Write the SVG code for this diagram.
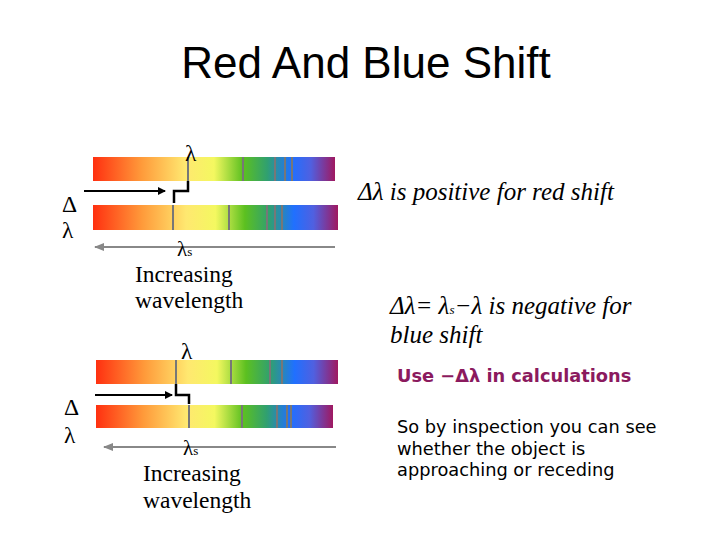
<svg xmlns="http://www.w3.org/2000/svg" width="720" height="540" viewBox="0 0 720 540">
<defs>
<linearGradient id="sp" x1="0" x2="1" y1="0" y2="0">
<stop offset="0" stop-color="#ff3010"/>
<stop offset="0.2" stop-color="#ff9a3a"/>
<stop offset="0.38" stop-color="#ffe870"/>
<stop offset="0.5" stop-color="#f4f860"/>
<stop offset="0.62" stop-color="#5cc020"/>
<stop offset="0.72" stop-color="#30a070"/>
<stop offset="0.82" stop-color="#2070ff"/>
<stop offset="0.9" stop-color="#5060e0"/>
<stop offset="1" stop-color="#a01860"/>
</linearGradient>
<marker id="ab" markerWidth="8" markerHeight="8" refX="7" refY="4" orient="auto" markerUnits="userSpaceOnUse"><path d="M0,0 L8,4 L0,8 Z" fill="#000"/></marker>
<marker id="ag" markerWidth="10" markerHeight="8" refX="9" refY="4" orient="auto" markerUnits="userSpaceOnUse"><path d="M0,0 L10,4 L0,8 Z" fill="#888"/></marker>
</defs>
<style>
.t{font-family:"Liberation Serif",serif;fill:#000}
.ln{stroke:#777;stroke-width:2}
.s{font-family:"DejaVu Sans",sans-serif;font-size:17.8px}
.r{font-size:25px;font-style:italic}
</style>
<rect width="720" height="540" fill="#fff"/>
<text x="366" y="78" text-anchor="middle" font-family="Liberation Sans,sans-serif" font-size="44">Red And Blue Shift</text>
<g id="spectra">
<rect x="93" y="157" width="242" height="24" fill="url(#sp)"/>
<rect x="93" y="205" width="245" height="25" fill="url(#sp)"/>
<rect x="96" y="360" width="242" height="24" fill="url(#sp)"/>
<rect x="96" y="405" width="237" height="23" fill="url(#sp)"/>
<g class="ln">
<line x1="188" y1="157" x2="188" y2="181"/><line x1="243" y1="157" x2="243" y2="181"/><line x1="275" y1="157" x2="275" y2="181"/><line x1="285" y1="157" x2="285" y2="181"/><line x1="292" y1="157" x2="292" y2="181"/>
<line x1="173" y1="205" x2="173" y2="230"/><line x1="229" y1="205" x2="229" y2="230"/><line x1="267" y1="205" x2="267" y2="230"/><line x1="275" y1="205" x2="275" y2="230"/><line x1="282" y1="205" x2="282" y2="230"/>
<line x1="176" y1="360" x2="176" y2="384"/><line x1="231" y1="360" x2="231" y2="384"/><line x1="270" y1="360" x2="270" y2="384"/><line x1="282" y1="360" x2="282" y2="384"/>
<line x1="189" y1="405" x2="189" y2="428"/><line x1="242" y1="405" x2="242" y2="428"/><line x1="277" y1="405" x2="277" y2="428"/><line x1="287" y1="405" x2="287" y2="428"/><line x1="291" y1="405" x2="291" y2="428"/>
</g>
</g>
<g id="connectors" fill="none">
<line x1="84" y1="191" x2="165" y2="191" stroke="#000" stroke-width="2" marker-end="url(#ab)"/>
<path d="M174,203 V191 H188 V181" stroke="#000" stroke-width="2.5"/>
<line x1="335" y1="247" x2="95" y2="247" stroke="#888" stroke-width="2" marker-end="url(#ag)"/>
<line x1="95" y1="395" x2="172" y2="395" stroke="#000" stroke-width="2" marker-end="url(#ab)"/>
<path d="M176,384 V395 H189 V404" stroke="#000" stroke-width="2.5"/>
<line x1="336" y1="447" x2="104" y2="447" stroke="#888" stroke-width="2" marker-end="url(#ag)"/>
</g>
<g id="labels" class="t" font-size="23.5">
<text x="185" y="161">λ</text>
<text x="62" y="212">Δ</text><text x="62" y="238">λ</text>
<text x="177" y="256" font-size="21">λ<tspan font-size="13">s</tspan></text>
<text x="135" y="282">Increasing</text><text x="135" y="308">wavelength</text>
<text x="181" y="359">λ</text>
<text x="64" y="415">Δ</text><text x="64" y="443">λ</text>
<text x="183" y="455" font-size="21">λ<tspan font-size="13">s</tspan></text>
<text x="143" y="481">Increasing</text><text x="143" y="508">wavelength</text>
<text x="358" y="200" class="r">Δλ is positive for red shift</text>
<text x="390" y="314" class="r">Δλ=  λ<tspan font-size="13">s</tspan>−λ is negative for</text>
<text x="390" y="343" class="r">blue shift</text>
</g>
<g id="notes" class="s">
<text x="397" y="382" font-weight="bold" fill="#8b1a5e">Use −Δλ in calculations</text>
<text x="397" y="433">So by inspection you can see</text>
<text x="397" y="455">whether the object is</text>
<text x="397" y="476">approaching or receding</text>
</g>
</svg>
